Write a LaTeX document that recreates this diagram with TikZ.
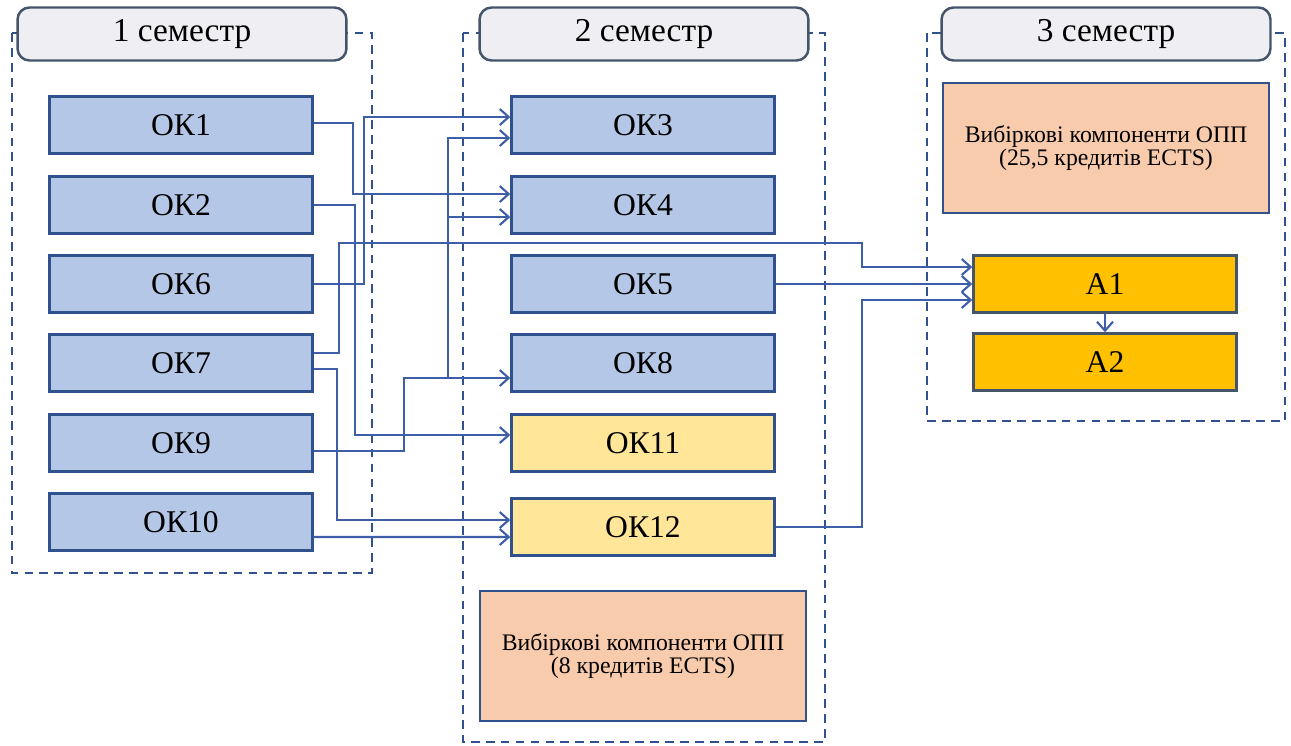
\documentclass[tikz,border=0pt]{standalone}
\usepackage{fontspec}
\setmainfont{Liberation Serif}
\usetikzlibrary{arrows.meta}

\definecolor{okblue}{HTML}{B4C7E7}
\definecolor{okyellow}{HTML}{FFE699}
\definecolor{agold}{HTML}{FFC000}
\definecolor{vibpeach}{HTML}{F8CBAD}
\definecolor{headgray}{HTML}{EFEFF3}
\definecolor{edgeblue}{HTML}{2F528F}
\definecolor{linkblue}{HTML}{3F5EA8}
\definecolor{slate}{HTML}{44546A}

\begin{document}
\begin{tikzpicture}[x=0.02cm, y=-0.02cm,
    okbox/.style={draw=edgeblue, line width=1.4pt, fill=okblue, minimum width=5.26cm, minimum height=1.14cm, inner sep=0pt, font=\fontsize{18}{20}\selectfont},
    okyel/.style={okbox, fill=okyellow},
    abox/.style={okbox, fill=agold, draw=slate},
    vibbox/.style={draw=edgeblue, line width=1.3pt, fill=vibpeach, minimum width=6.52cm, minimum height=2.6cm, align=center, font=\fontsize{13.5}{13}\selectfont},
    semhead/.style={draw=slate, line width=1.4pt, fill=headgray, rounded corners=0.24cm, minimum width=6.58cm, minimum height=1.06cm, font=\fontsize{19}{21}\selectfont},
    semframe/.style={draw=edgeblue, line width=1.4pt, dash pattern=on 5pt off 3.5pt},
    link/.style={draw=linkblue, line width=1.2pt, -{Straight Barb[length=1.8mm,width=3.2mm]}}]
    \useasboundingbox (0,0) rectangle (1291,745);

    \draw[semframe] (12,33) rectangle (372,573);
    \draw[semframe] (463,33) rectangle (825,742);
    \draw[semframe] (927,33) rectangle (1285,421);

    \node[semhead] (sem1) at (182,34) {1 семестр};
    \node[semhead] (sem2) at (644,34) {2 семестр};
    \node[semhead] (sem3) at (1106,34) {3 семестр};

    \node[okbox] (ok1) at (181,125) {ОК1};
    \node[okbox] (ok2) at (181,205) {ОК2};
    \node[okbox] (ok6) at (181,284) {ОК6};
    \node[okbox] (ok7) at (181,363) {ОК7};
    \node[okbox] (ok9) at (181,443) {ОК9};
    \node[okbox] (ok10) at (181,522) {ОК10};

    \node[okbox] (ok3) at (643,125) {ОК3};
    \node[okbox] (ok4) at (643,205) {ОК4};
    \node[okbox] (ok5) at (643,284) {ОК5};
    \node[okbox] (ok8) at (643,363) {ОК8};
    \node[okyel] (ok11) at (643,443) {ОК11};
    \node[okyel] (ok12) at (643,527) {ОК12};
    \node[vibbox] (vib2) at (643,656) {Вибіркові компоненти ОПП\\(8 кредитів ECTS)};

    \node[vibbox] (vib3) at (1106,148) {Вибіркові компоненти ОПП\\(25,5 кредитів ECTS)};
    \node[abox] (a1) at (1105,284) {А1};
    \node[abox] (a2) at (1105,362) {А2};

    \draw[link] ([yshift=0.04cm]ok1.east) -- ++(39,0) |- ([yshift=0.22cm]ok4.west);
    \draw[link] (ok6.east) -- ++(50,0) |- ([yshift=0.16cm]ok3.west);
    \draw[link] (ok2.east) -- ++(41,0) |- ([yshift=0.16cm]ok11.west);
    \draw[link] ([yshift=-0.16cm]ok9.east) -- ++(90,0) |- ([yshift=-0.3cm]ok8.west);
    \coordinate (j9) at (448,378);
    \draw[link] (j9) |- ([yshift=-0.26cm]ok3.west);
    \draw[link] (j9) |- ([yshift=-0.24cm]ok4.west);
    \draw[link] ([yshift=0.2cm]ok7.east) -- ++(25,0) -- ++(0,-110) -- ++(523,0) |- ([yshift=0.34cm]a1.west);
    \draw[link] ([yshift=-0.12cm]ok7.east) -- ++(23,0) |- ([yshift=0.14cm]ok12.west);
    \draw[link] ([yshift=-0.3cm]ok10.east) -- ([yshift=-0.2cm]ok12.west);
    \draw[link] (ok5.east) -- (a1.west);
    \draw[link] (ok12.east) -- ++(86,0) |- ([yshift=-0.32cm]a1.west);
    \draw[link] (a1.south) -- (a2.north);
\end{tikzpicture}
\end{document}
